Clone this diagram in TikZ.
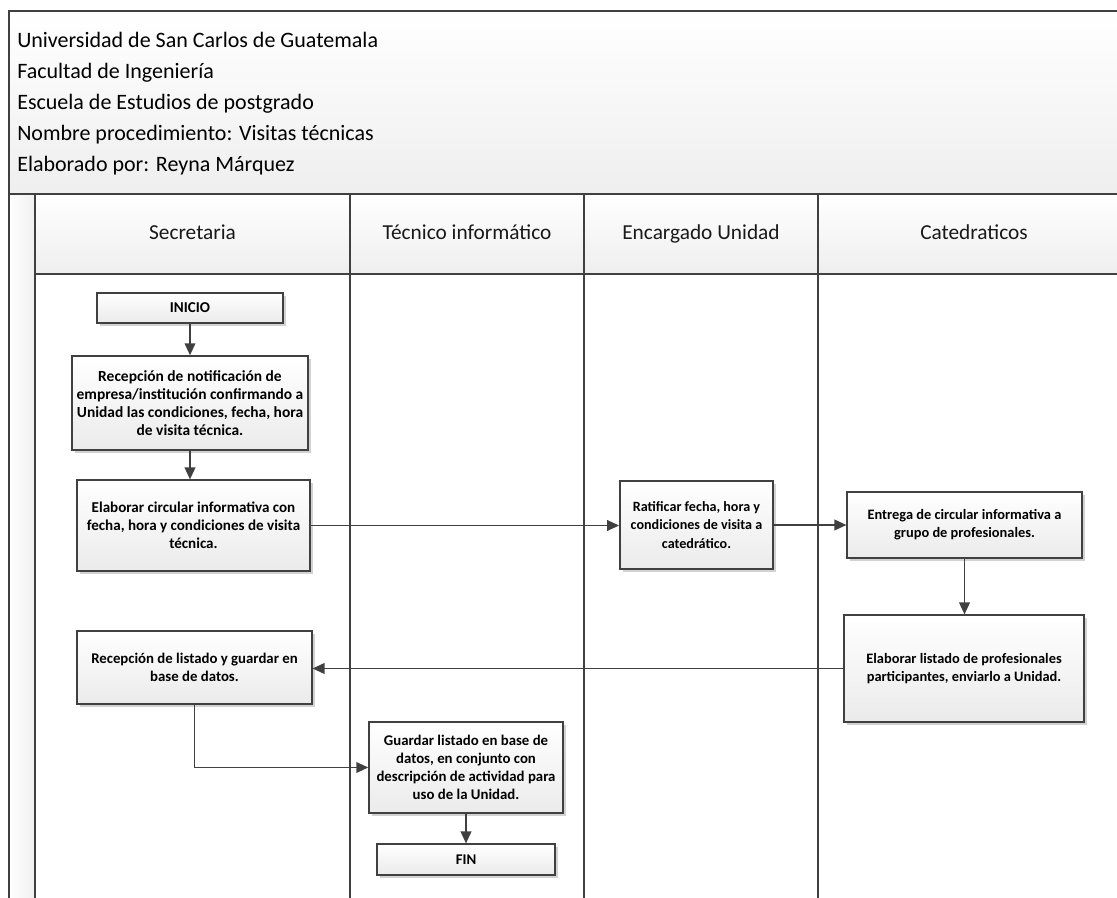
\documentclass[tikz,border=0pt]{standalone}
\usepackage{fontspec}
\setmainfont{Carlito}
\usetikzlibrary{arrows.meta,shadows}
\definecolor{ln}{HTML}{404040}
\tikzset{
  box/.style={draw=ln, line width=1.1pt, top color=white, bottom color=gray!16,
    align=center, font=\bfseries\fontsize{#1}{13.6}\selectfont, inner sep=2pt,
    drop shadow={shadow xshift=2.2pt, shadow yshift=-2.2pt, fill=gray!70, opacity=0.5}},
  box/.default=11.3,
  conn/.style={draw=ln, line width=1.3pt, -{Triangle[length=9pt,width=8pt]}},
  frameline/.style={draw=ln, line width=1.3pt},
  laneline/.style={draw=ln, line width=0.9pt},
  lanelabel/.style={font=\fontsize{16}{19}\selectfont, text=black!90, text height=11pt, text depth=3pt},
}
\begin{document}
\begin{tikzpicture}[x=0.75pt,y=-0.75pt]
\useasboundingbox (0,0) rectangle (1117,898);
% header and strips
\shade[top color=white, bottom color=gray!13] (9,11) rectangle (1130,194);
\shade[top color=white, bottom color=gray!13] (35,194) rectangle (1130,274);
\shade[left color=white, right color=gray!12] (9,194) rectangle (35,910);
\draw[frameline] (9,910) -- (9,11) -- (1130,11) -- (1130,910);
\draw[frameline] (9,194) -- (1130,194);
\draw[laneline] (35,194) -- (35,910);
\draw[laneline] (350,194) -- (350,910);
\draw[laneline] (584,194) -- (584,910);
\draw[laneline] (818,194) -- (818,910);
\draw[laneline] (35,274) -- (1130,274);
% title
\node[anchor=west, align=left, inner sep=0pt, font=\fontsize{16.5}{23.25}\selectfont] (title) at (17,104)
 {Universidad de San Carlos de Guatemala\\Facultad de Ingeniería\\Escuela de Estudios de postgrado\\Nombre procedimiento: Visitas técnicas\\Elaborado por: Reyna Márquez};
% lane labels
\node[lanelabel] (l1) at (192.5,234) {Secretaria};
\node[lanelabel] (l2) at (467,234) {Técnico informático};
\node[lanelabel] (l3) at (701,234) {Encargado Unidad};
\node[lanelabel] (l4) at (974,234) {Catedraticos};
% boxes
\node[box=11.3, minimum width=139.5pt, minimum height=22.5pt] (inicio) at (190,308) {INICIO};
\node[box=11.6, minimum width=177pt, minimum height=70.5pt] (recep) at (190,403) {Recepción de notificación de\\empresa/institución confirmando a\\Unidad las condiciones, fecha, hora\\de visita técnica.};
\node[box=11.3, minimum width=175pt, minimum height=68pt] (circ) at (193.5,525.5) {Elaborar circular informativa con\\fecha, hora y condiciones de visita\\técnica.};
\node[box=10.6, minimum width=115pt, minimum height=66pt] (ratif) at (696.5,525) {Ratificar fecha, hora y\\condiciones de visita a\\catedrático.};
\node[box=10.8, minimum width=176pt, minimum height=49.5pt] (entrega) at (964.5,525) {Entrega de circular informativa a\\grupo de profesionales.};
\node[box=10.8, minimum width=180pt, minimum height=80pt] (listado) at (964,668.5) {Elaborar listado de profesionales\\participantes, enviarlo a Unidad.};
\node[box=11.1, minimum width=176pt, minimum height=55pt] (recli) at (194.5,667.5) {Recepción de listado y guardar en\\base de datos.};
\node[box=11.1, minimum width=145.5pt, minimum height=68pt] (guardar) at (466,767.5) {Guardar listado en base de\\datos, en conjunto con\\descripción de actividad para\\uso de la Unidad.};
\node[box=11.1, minimum width=133.5pt, minimum height=23pt] (fin) at (466,859.5) {FIN};
% connectors
\draw[conn] (inicio) -- (recep);
\draw[conn] (recep.south) -- (recep.south |- circ.north);
\draw[conn] (circ.east) -- (circ.east -| ratif.west);
\draw[conn] (ratif.east) -- (ratif.east -| entrega.west);
\draw[conn] (entrega.south) -- (entrega.south |- listado.north);
\draw[conn] (listado.west) -- (listado.west -| recli.east);
\draw[conn] (recli.south) |- (guardar.west);
\draw[conn] (guardar) -- (fin);
\end{tikzpicture}
\end{document}
